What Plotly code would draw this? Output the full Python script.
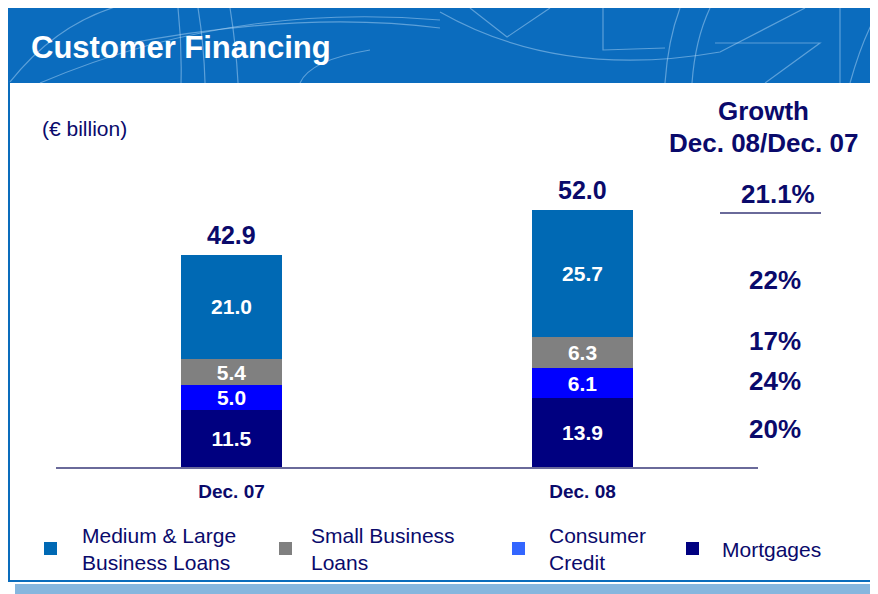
import plotly.graph_objects as go

# data (€ billion)
periods = ["Dec. 07", "Dec. 08"]
mortgages = [11.5, 13.9]
consumer_credit = [5.0, 6.1]
small_business = [5.4, 6.3]
medium_large = [21.0, 25.7]
growth_total = 21.1
growth_medium_large = 22
growth_small_business = 17
growth_consumer = 24
growth_mortgages = 20
legend_labels = ["Medium & Large<br>Business Loans", "Small Business<br>Loans",
                 "Consumer<br>Credit", "Mortgages"]

# page has an 8px body margin, so the figure is drawn 8px in
OFF = 8
W, H = 878 - OFF, 594 - OFF
# plot box in page pixels
X0, X1, Y0, Y1 = 56, 758, 171, 467
UNIT_PX = 4.94  # pixels per € billion

NAVY = "#0a0a6b"
C_ML = "#0069b4"
C_SB = "#808080"
C_CC = "#0000ff"
C_MO = "#000080"
FONT = "Liberation Sans, Arial, sans-serif"


def px(x):
    return (x - X0) / (X1 - X0)


def py(y):
    return (Y1 - y) / (Y1 - Y0)


def path(cmds):
    # pixel path -> paper path
    out = []
    for c in cmds:
        k, pts = c[0], c[1:]
        coords = " ".join(f"{px(pts[i]):.4f},{py(pts[i + 1]):.4f}" for i in range(0, len(pts), 2))
        out.append(f"{k} {coords}")
    return " ".join(out)


fig = go.Figure()
series = [
    ("Mortgages", mortgages, C_MO),
    ("Consumer Credit", consumer_credit, C_CC),
    ("Small Business Loans", small_business, C_SB),
    ("Medium & Large Business Loans", medium_large, C_ML),
]
for name, vals, col in series:
    fig.add_trace(go.Bar(
        x=periods, y=vals, name=name, marker=dict(color=col, line=dict(width=0)),
        width=0.288, text=[f"{v:.1f}" for v in vals], textposition="inside",
        insidetextanchor="middle", constraintext="none",
        textfont=dict(family=FONT, size=21, color="white", weight="bold"),
        showlegend=False,
    ))

totals = [a + b + c + d for a, b, c, d in zip(mortgages, consumer_credit, small_business, medium_large)]

shapes = []
annotations = []

# header band + decoration
shapes.append(dict(type="rect", xref="paper", yref="paper", x0=px(8), x1=px(890), y0=py(83), y1=py(0),
                   fillcolor="#0b6cbe", line=dict(width=0), layer="below"))
deco = [
    [("M", 10, 82), ("Q", 55, 25, 118, 6)],
    [("M", 40, 83), ("Q", 230, 2, 440, 20)],
    [("M", 120, 45), ("Q", 300, 10, 440, 28)],
    [("M", 178, 8), ("Q", 182, 45, 181, 83)],
    [("M", 198, 8), ("Q", 204, 45, 205, 83)],
    [("M", 230, 8), ("Q", 236, 45, 238, 83)],
    [("M", 300, 83), ("Q", 310, 60, 370, 50)],
    [("M", 440, 12), ("Q", 560, 80, 720, 52), ("L", 805, 8)],
    [("M", 470, 8), ("L", 507, 37), ("L", 550, 8)],
    [("M", 603, 8), ("L", 603, 50), ("L", 665, 48)],
    [("M", 665, 83), ("Q", 668, 40, 680, 8)],
    [("M", 692, 83), ("Q", 695, 40, 710, 8)],
    [("M", 715, 43), ("L", 820, 43), ("L", 765, 83)],
    [("M", 840, 8), ("L", 840, 83)],
    [("M", 850, 83), ("Q", 862, 40, 878, 12)],
]
for d in deco:
    shapes.append(dict(type="path", xref="paper", yref="paper", path=path(d),
                       line=dict(color="rgba(190,225,250,0.45)", width=1.2), layer="below"))

# slide frame and shadow
shapes.append(dict(type="line", xref="paper", yref="paper", x0=px(9), x1=px(9), y0=py(83), y1=py(581),
                   line=dict(color="#0a6cbc", width=2)))
shapes.append(dict(type="line", xref="paper", yref="paper", x0=px(8), x1=px(890), y0=py(581), y1=py(581),
                   line=dict(color="#0a6cbc", width=2)))
shapes.append(dict(type="rect", xref="paper", yref="paper", x0=px(15), x1=px(890), y0=py(600), y1=py(584),
                   fillcolor="#86b6de", line=dict(width=0)))

# growth underline
shapes.append(dict(type="line", xref="paper", yref="paper", x0=px(720), x1=px(821), y0=py(213), y1=py(213),
                   line=dict(color="#6a6a9a", width=2)))

annotations.append(dict(xref="paper", yref="paper", x=px(29), y=py(48), xanchor="left", yanchor="middle",
                        text="<b>Customer Financing</b>", showarrow=False,
                        font=dict(family=FONT, size=31, color="white")))
annotations.append(dict(xref="paper", yref="paper", x=px(40), y=py(128), xanchor="left", yanchor="middle",
                        text="(€ billion)", showarrow=False, font=dict(family=FONT, size=21, color=NAVY)))

# totals above bars
for p, t in zip(periods, totals):
    annotations.append(dict(xref="x", yref="y", x=p, y=t, yshift=20, xanchor="center", yanchor="middle",
                            text=f"<b>{t:.1f}</b>", showarrow=False,
                            font=dict(family=FONT, size=25, color=NAVY)))

# growth column
annotations.append(dict(xref="paper", yref="paper", x=px(763), y=py(111), xanchor="center", yanchor="middle",
                        text="<b>Growth</b>", showarrow=False, font=dict(family=FONT, size=26, color=NAVY)))
annotations.append(dict(xref="paper", yref="paper", x=px(763), y=py(143), xanchor="center", yanchor="middle",
                        text="<b>Dec. 08/Dec. 07</b>", showarrow=False, font=dict(family=FONT, size=26, color=NAVY)))
growth_rows = [(f"{growth_total:.1f}%", 778, 194),
               (f"{growth_medium_large}%", 775, 280),
               (f"{growth_small_business}%", 775, 341),
               (f"{growth_consumer}%", 775, 381),
               (f"{growth_mortgages}%", 775, 429)]
for txt, gx, gy in growth_rows:
    annotations.append(dict(xref="paper", yref="paper", x=px(gx), y=py(gy), xanchor="center", yanchor="middle",
                            text=f"<b>{txt}</b>", showarrow=False,
                            font=dict(family=FONT, size=26, color=NAVY)))

# legend (custom)
legend_cols = [C_ML, C_SB, "#3366ff", C_MO]
legend_sq_x = [44, 279, 512, 686]
legend_txt_x = [80, 309, 547, 720]
for lab, col, sx, tx in zip(legend_labels, legend_cols, legend_sq_x, legend_txt_x):
    shapes.append(dict(type="rect", xref="paper", yref="paper", x0=px(sx), x1=px(sx + 13),
                       y0=py(555), y1=py(542), fillcolor=col, line=dict(width=0)))
    annotations.append(dict(xref="paper", yref="paper", x=px(tx), y=py(549), xanchor="left", yanchor="middle",
                            align="left", text=lab, showarrow=False,
                            font=dict(family=FONT, size=21, color=NAVY)))

fig.update_layout(
    width=W, height=H,
    margin=dict(l=X0 - OFF, r=W - (X1 - OFF), t=Y0 - OFF, b=H - (Y1 - OFF), pad=0),
    barmode="stack", paper_bgcolor="white", plot_bgcolor="white",
    shapes=shapes, annotations=annotations, showlegend=False,
    font=dict(family=FONT, color=NAVY),
)
fig.update_xaxes(range=[-0.5, 1.5], showline=True, linecolor="#6a6a9a", linewidth=1.5,
                 showgrid=False, zeroline=False, ticks="outside", ticklen=6, tickcolor="rgba(0,0,0,0)",
                 tickfont=dict(family=FONT, size=19, color=NAVY, weight="bold"))
fig.update_yaxes(range=[0, (Y1 - Y0) / UNIT_PX], visible=False, showgrid=False, zeroline=False)

fig.write_html("out.html")
